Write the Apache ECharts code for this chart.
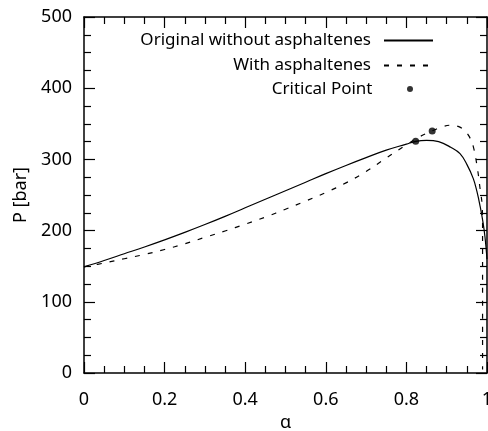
<!DOCTYPE html>
<html>
<head>
<meta charset="utf-8">
<script src="https://cdn.jsdelivr.net/npm/echarts@6/dist/echarts.min.js"></script>
<style>html,body{margin:0;padding:0;background:#fff}#c{width:488px;height:431px}</style>
</head>
<body>
<div id="c"></div>
<script>
const alphaSolid = [0,0.05,0.1,0.15,0.2,0.25,0.3,0.35,0.4,0.45,0.5,0.55,0.6,0.65,0.7,0.75,0.8,0.823,0.85,0.88,0.91,0.933,0.95,0.966,0.975,0.983,0.99,0.995,1.0];
const pSolid = [149,158,167.5,177,187,197.5,208.5,220,232,244,256,268,280,291.5,302.5,313,321.5,325.4,326.8,325,317,308,293,273,255,234,212,191,160];
const alphaDashed = [0,0.05,0.1,0.15,0.2,0.25,0.3,0.35,0.4,0.45,0.5,0.55,0.6,0.65,0.7,0.75,0.8,0.83,0.864,0.89,0.91,0.93,0.945,0.955,0.966,0.976,0.983,0.988,0.989,0.989,0.989];
const pDashed = [149,154.5,160.5,166.5,173.5,181.5,190.5,199.5,209,219,230,241.5,253.5,267,283,302,320.5,331,340,346,348,346,340,333,318,288,258,235,205,100,5];
const alphaCrit = [0.823,0.864];
const pCrit = [325.4,340];
const names = ['Original without asphaltenes','With asphaltenes','Critical Point'];

const zip = (a,b) => a.map((v,i)=>[v,b[i]]);
const font = 'Noto Sans';
const tickCommon = () => ({
  axisLine:{show:true,onZero:false,lineStyle:{color:'#000',width:1.5}},
  axisTick:{show:true,inside:true,length:11,lineStyle:{color:'#000',width:1.2}},
  minorTick:{show:true,splitNumber:4,length:7,lineStyle:{color:'#000',width:1.2}},
  splitLine:{show:false}
});
const chart = echarts.init(document.getElementById('c'));
chart.setOption({
  animation:false,
  backgroundColor:'#fff',
  grid:{left:84,right:1,top:17,bottom:58,containLabel:false,outerBoundsMode:'none'},
  xAxis:[
    Object.assign({type:'value',min:0,max:1,interval:0.2,position:'bottom',
      name:'α',nameLocation:'middle',nameGap:29,
      nameTextStyle:{fontFamily:font,fontSize:18,color:'#000'},
      axisLabel:{fontFamily:font,fontSize:18,color:'#000',margin:18}},tickCommon()),
    Object.assign({type:'value',min:0,max:1,interval:0.2,position:'top',axisLabel:{show:false}},tickCommon())
  ],
  yAxis:[
    Object.assign({type:'value',min:0,max:500,interval:100,position:'left',
      name:'P [bar]',nameLocation:'middle',nameGap:50,
      nameTextStyle:{fontFamily:font,fontSize:18,color:'#000'},
      axisLabel:{fontFamily:font,fontSize:18,color:'#000',margin:12}},tickCommon()),
    Object.assign({type:'value',min:0,max:500,interval:100,position:'right',axisLabel:{show:false}},tickCommon())
  ],
  legend:[0,1,2].map(i=>({
    data:[names[i]], right:[54,54,75][i], top:[32,57,80.5][i], align:'right', padding:0,
    itemWidth:49, itemHeight:i===2?6:14, selectedMode:false,
    itemStyle: i===2 ? {} : {color:'rgba(0,0,0,0)',borderWidth:0},
    textStyle:{fontFamily:font,fontSize:17,color:'#000',padding:[0,8,0,0]}
  })),
  series:[
    {name:names[0],type:'line',data:zip(alphaSolid,pSolid),symbol:'none',smooth:0.4,
      lineStyle:{color:'#000',width:1.2},itemStyle:{color:'#000'}},
    {name:names[1],type:'line',data:zip(alphaDashed,pDashed),symbol:'none',smooth:0.4,
      lineStyle:{color:'#000',width:1.2,type:[5,8]},itemStyle:{color:'#000'}},
    {name:names[2],type:'scatter',data:zip(alphaCrit,pCrit),symbol:'circle',symbolSize:7,
      itemStyle:{color:'#000'},z:5}
  ]
});
</script>
</body>
</html>
